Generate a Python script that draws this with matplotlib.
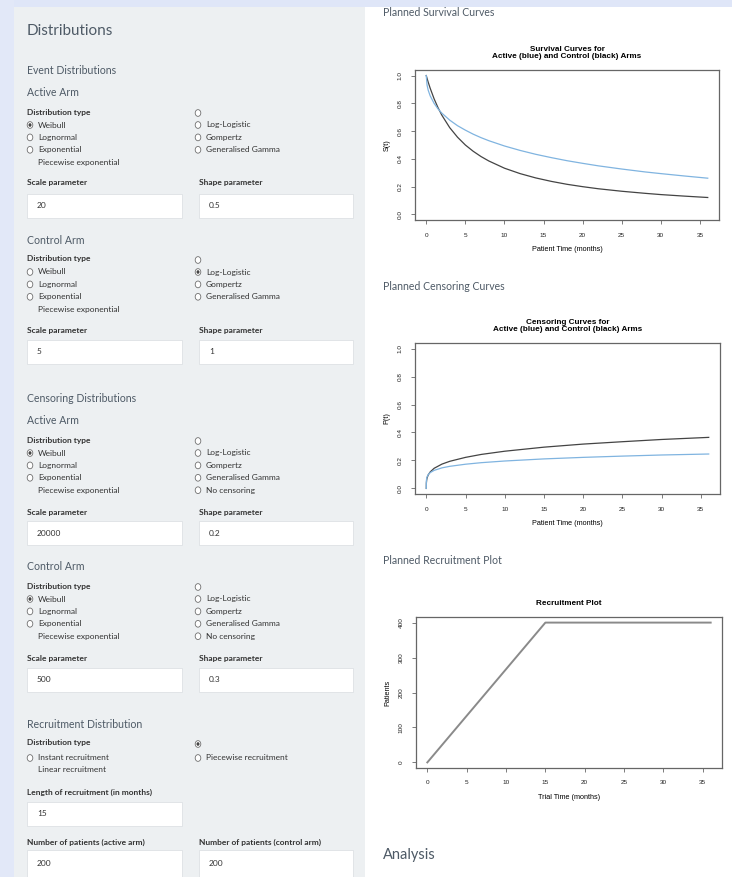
import matplotlib
matplotlib.use("Agg")
import matplotlib.pyplot as plt
from matplotlib.patches import Rectangle, Circle

# ---------------- data ----------------
surv_time = [0, 0.1, 0.25, 0.5, 1, 1.5, 2, 3, 4, 5, 6, 7, 8, 10, 12, 14, 16, 18, 20, 22, 25, 28, 30, 33, 36]
surv_active = [1.0, 0.932, 0.894, 0.854, 0.800, 0.760, 0.729, 0.679, 0.639, 0.607, 0.578, 0.553, 0.531,
               0.493, 0.461, 0.433, 0.409, 0.387, 0.368, 0.350, 0.327, 0.306, 0.294, 0.277, 0.261]
surv_control = [1.0, 0.980, 0.952, 0.909, 0.833, 0.769, 0.714, 0.625, 0.556, 0.500, 0.455, 0.417, 0.385,
                0.333, 0.294, 0.263, 0.238, 0.217, 0.200, 0.185, 0.167, 0.152, 0.143, 0.132, 0.122]

cens_time = [0, 0.01, 0.05, 0.1, 0.25, 0.5, 1, 2, 3, 5, 7, 10, 15, 20, 25, 30, 36]
cens_active = [0.0, 0.053, 0.073, 0.083, 0.099, 0.113, 0.129, 0.147, 0.158, 0.173, 0.184, 0.196,
               0.211, 0.222, 0.231, 0.239, 0.246]
cens_control = [0.0, 0.038, 0.061, 0.075, 0.097, 0.118, 0.144, 0.174, 0.194, 0.222, 0.243, 0.266,
                0.295, 0.317, 0.334, 0.350, 0.365]

recr_time = [0, 15, 36]
recr_patients = [0, 400, 400]

x_ticks = [0, 5, 10, 15, 20, 25, 30, 35]
prob_ticks = [0.0, 0.2, 0.4, 0.6, 0.8, 1.0]
prob_tick_labels = ["0.0", "0.2", "0.4", "0.6", "0.8", "1.0"]
recr_ticks = [0, 100, 200, 300, 400]

# ---------------- figure ----------------
W, H = 732, 877
fig = plt.figure(figsize=(W / 100, H / 100), dpi=100)
fig.patch.set_facecolor("white")

def fx(x):
    return x / W

def fy(y):
    return 1 - y / H

def rect(x, y, w, h, **kw):
    fig.patches.append(Rectangle((fx(x), fy(y + h)), w / W, h / H, transform=fig.transFigure, **kw))

# background strips
rect(0, 0, W, 7, facecolor="#dfe6f8", edgecolor="none", zorder=0)
rect(0, 0, 14, H, facecolor="#e2e8f8", edgecolor="none", zorder=0)
rect(14, 7, 351, H - 7, facecolor="#edf0f2", edgecolor="none", zorder=0)

UI = "Lato"
TXT = "#333333"
HEAD = "#4e5a66"
SM = 6.0

def t(x, y, s, size=SM, weight="normal", color=TXT, family=UI, ha="left"):
    fig.text(fx(x), fy(y), s, fontsize=size, fontweight=weight, color=color,
             family=family, ha=ha, va="center")

def radio(x, y, filled=False):
    fig.patches.append(Circle((fx(x), fy(y)), 2.8 / W, transform=fig.transFigure,
                              facecolor="white", edgecolor="#707070", lw=0.6, zorder=3))
    if filled:
        fig.patches.append(Circle((fx(x), fy(y)), 1.5 / W, transform=fig.transFigure,
                                  facecolor="#444444", edgecolor="none", zorder=4))

def inbox(x, y, w, h, val):
    rect(x, y, w, h, facecolor="white", edgecolor="#dde1e4", lw=0.6, zorder=2)
    t(x + 10, y + h / 2, val)

# left-panel headings
t(27, 31, "Distributions", size=11, color=HEAD)
t(27, 70, "Event Distributions", size=7.6, color=HEAD)

def arm_block(y0, title, left_sel, right_items, right_sel, top_sel=False):
    t(27, y0, title, size=7.6, color=HEAD)
    yd = y0 + 19
    t(27, yd, "Distribution type", weight="bold")
    left = ["Weibull", "Lognormal", "Exponential"]
    for i, name in enumerate(left):
        yy = yd + 13 + i * 12.4
        radio(30, yy, filled=(left_sel == i))
        t(38, yy, name)
    t(38, yd + 13 + 3 * 12.4, "Piecewise exponential")
    radio(198, yd + 1, filled=top_sel)
    for i, name in enumerate(right_items):
        yy = yd + 13 + i * 12.4
        radio(198, yy, filled=(right_sel == i))
        t(206, yy, name)

ev_right = ["Log-Logistic", "Gompertz", "Generalised Gamma"]
cen_right = ["Log-Logistic", "Gompertz", "Generalised Gamma", "No censoring"]

# Event: active arm
arm_block(93, "Active Arm", 0, ev_right, -1)
t(27, 183, "Scale parameter", weight="bold")
t(199, 183, "Shape parameter", weight="bold")
inbox(27, 194, 155, 24, "20")
inbox(199, 194, 154, 24, "0.5")

# Event: control arm
arm_block(240, "Control Arm", -1, ev_right, 0)
t(27, 330, "Scale parameter", weight="bold")
t(199, 330, "Shape parameter", weight="bold")
inbox(27, 340, 155, 24, "5")
inbox(199, 340, 154, 24, "1")

# Censoring
t(27, 398, "Censoring Distributions", size=7.6, color=HEAD)
arm_block(421, "Active Arm", 0, cen_right, -1)
t(27, 512, "Scale parameter", weight="bold")
t(199, 512, "Shape parameter", weight="bold")
inbox(27, 521, 155, 24, "20000")
inbox(199, 521, 154, 24, "0.2")

arm_block(567, "Control Arm", 0, cen_right, -1)
t(27, 658, "Scale parameter", weight="bold")
t(199, 658, "Shape parameter", weight="bold")
inbox(27, 668, 155, 24, "500")
inbox(199, 668, 154, 24, "0.3")

# Recruitment
t(27, 725, "Recruitment Distribution", size=7.6, color=HEAD)
t(27, 743, "Distribution type", weight="bold")
radio(30, 758)
t(38, 758, "Instant recruitment")
t(38, 770, "Linear recruitment")
radio(198, 744, filled=True)
radio(198, 758)
t(206, 758, "Piecewise recruitment")
t(27, 792, "Length of recruitment (in months)", weight="bold")
inbox(27, 802, 155, 24, "15")
t(27, 842, "Number of patients (active arm)", weight="bold")
t(199, 842, "Number of patients (control arm)", weight="bold")
inbox(27, 850, 155, 27, "200")
inbox(199, 850, 154, 27, "200")

# right column headings
t(383, 13, "Planned Survival Curves", size=7.6, color=HEAD)
t(383, 287, "Planned Censoring Curves", size=7.6, color=HEAD)
t(383, 560, "Planned Recruitment Plot", size=7.6, color=HEAD)
t(383, 855, "Analysis", size=10.5, color=HEAD)

# ---------------- R-style plots ----------------
RF = ["Liberation Sans", "DejaVu Sans"]
BOX = "#666666"

def r_axes(left, top, right, bottom, ylim, yticks, yticklabels, title, xlabel, ylabel):
    ax = fig.add_axes([fx(left), fy(bottom), (right - left) / W, (bottom - top) / H])
    ax.set_xlim(-1.44, 37.44)
    ax.set_ylim(*ylim)
    for sp in ax.spines.values():
        sp.set_color(BOX)
        sp.set_linewidth(0.9)
    ax.set_xticks(x_ticks)
    ax.set_xticklabels([str(v) for v in x_ticks], fontsize=4.6, family=RF)
    ax.set_yticks(yticks)
    ax.set_yticklabels(yticklabels, fontsize=4.6, family=RF, rotation=90, va="center")
    ax.tick_params(length=3, width=0.6, color=BOX, pad=6, labelcolor="#222222")
    ax.set_title(title, fontsize=5.9, family=RF, fontweight="bold", pad=8.5, linespacing=1.0)
    ax.set_xlabel(xlabel, fontsize=5.2, family=RF, labelpad=6)
    ax.set_ylabel(ylabel, fontsize=5.2, family=RF, labelpad=5)
    return ax

ax1 = r_axes(415, 70, 719, 220, (-0.04, 1.04), prob_ticks, prob_tick_labels,
             "Survival Curves for\nActive (blue) and Control (black) Arms",
             "Patient Time (months)", "S(t)")
ax1.plot(surv_time, surv_control, color="#444444", lw=0.9)
ax1.plot(surv_time, surv_active, color="#80b4e0", lw=0.9)

ax2 = r_axes(415, 343, 720, 494, (-0.04, 1.04), prob_ticks, prob_tick_labels,
             "Censoring Curves for\nActive (blue) and Control (black) Arms",
             "Patient Time (months)", "P(t)")
ax2.plot(cens_time, cens_control, color="#444444", lw=0.9)
ax2.plot(cens_time, cens_active, color="#80b4e0", lw=0.9)

ax3 = r_axes(416, 617, 722, 768, (-16, 416), recr_ticks, [str(v) for v in recr_ticks],
             "Recruitment Plot", "Trial Time (months)", "Patients")
ax3.plot(recr_time, recr_patients, color="#8a8a8a", lw=1.4)

fig.savefig("out.png", dpi=100)
